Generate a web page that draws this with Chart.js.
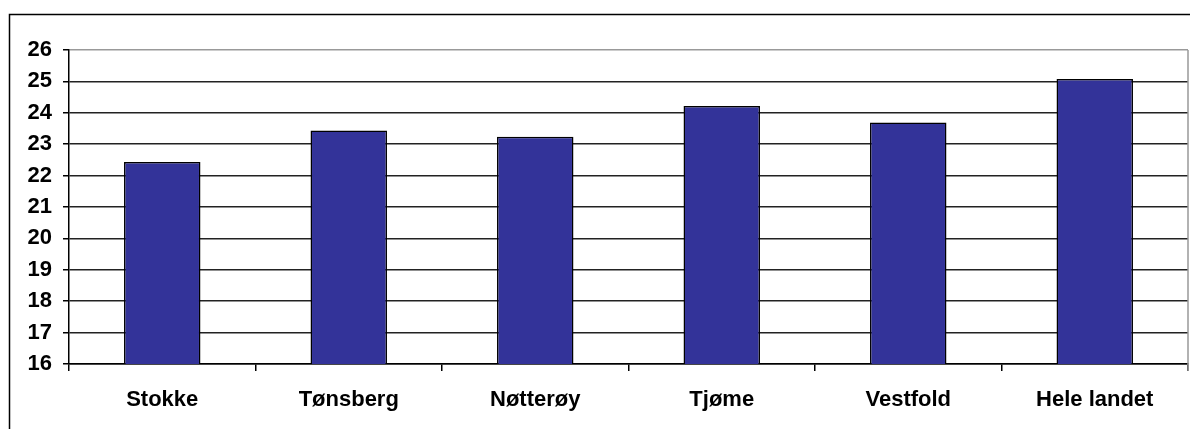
<!DOCTYPE html>
<html>
<head>
<meta charset="utf-8">
<script src="https://cdn.jsdelivr.net/npm/chart.js@4/dist/chart.umd.min.js"></script>
<style>
  html, body { margin: 0; padding: 0; background: #fff; }
  #wrap { position: relative; width: 1190px; height: 429px; }
</style>
</head>
<body>
<div id="wrap"><canvas id="chart" width="1190" height="429"></canvas></div>
<script>
const categories = ['Stokke', 'Tønsberg', 'Nøtterøy', 'Tjøme', 'Vestfold', 'Hele landet'];
const values = [22.43, 23.44, 23.24, 24.22, 23.69, 25.08];
const yMin = 16;
const yMax = 26;

// outer frame (left + top only, rest is cropped) and grey plot border on the right
const framePlugin = {
    id: 'frame',
    beforeDraw(chart) {
        const c = chart.ctx;
        c.save();
        c.strokeStyle = '#000';
        c.lineWidth = 1.5;
        c.beginPath();
        c.moveTo(9.5, 429);
        c.lineTo(9.5, 14.5);
        c.lineTo(1190, 14.5);
        c.stroke();
        c.restore();
    },
    afterDraw(chart) {
        const a = chart.chartArea;
        const c = chart.ctx;
        c.save();
        c.strokeStyle = '#999';
        c.lineWidth = 1.5;
        c.beginPath();
        c.moveTo(a.right, a.top);
        c.lineTo(a.right, a.bottom + 7);
        c.stroke();
        c.restore();
    }
};

Chart.defaults.font.family = '"Liberation Sans", Arial, sans-serif';
Chart.defaults.font.weight = 'bold';
Chart.defaults.font.size = 22;
Chart.defaults.color = '#000';

new Chart(document.getElementById('chart').getContext('2d'), {
    type: 'bar',
    data: {
        labels: categories,
        datasets: [{
            data: values,
            backgroundColor: '#333399',
            borderColor: '#000',
            borderWidth: 1.5,
            categoryPercentage: 1,
            barPercentage: 0.41,
            clip: 0
        }]
    },
    options: {
        responsive: false,
        animation: false,
        layout: { padding: { top: 50, right: 2, left: 0, bottom: 0 } },
        plugins: {
            legend: { display: false },
            tooltip: { enabled: false }
        },
        scales: {
            x: {
                offset: true,
                grid: {
                    offset: true,
                    drawOnChartArea: false,
                    drawTicks: true,
                    tickLength: 7,
                    color: '#000',
                    lineWidth: 1.5
                },
                border: { color: '#000', width: 1.5 },
                ticks: { padding: 16, maxRotation: 0, autoSkip: false },
                afterFit(scale) { scale.height = 65; }
            },
            y: {
                min: yMin,
                max: yMax,
                grid: {
                    color: ctx => (ctx.tick && ctx.tick.value === yMax) ? '#999' : '#222',
                    lineWidth: 1.5,
                    tickLength: 6,
                    tickColor: '#000'
                },
                border: { color: '#000', width: 1.5 },
                ticks: { stepSize: 1, padding: 11 },
                afterFit(scale) { scale.width = 69; }
            }
        }
    },
    plugins: [framePlugin]
});
</script>
</body>
</html>
